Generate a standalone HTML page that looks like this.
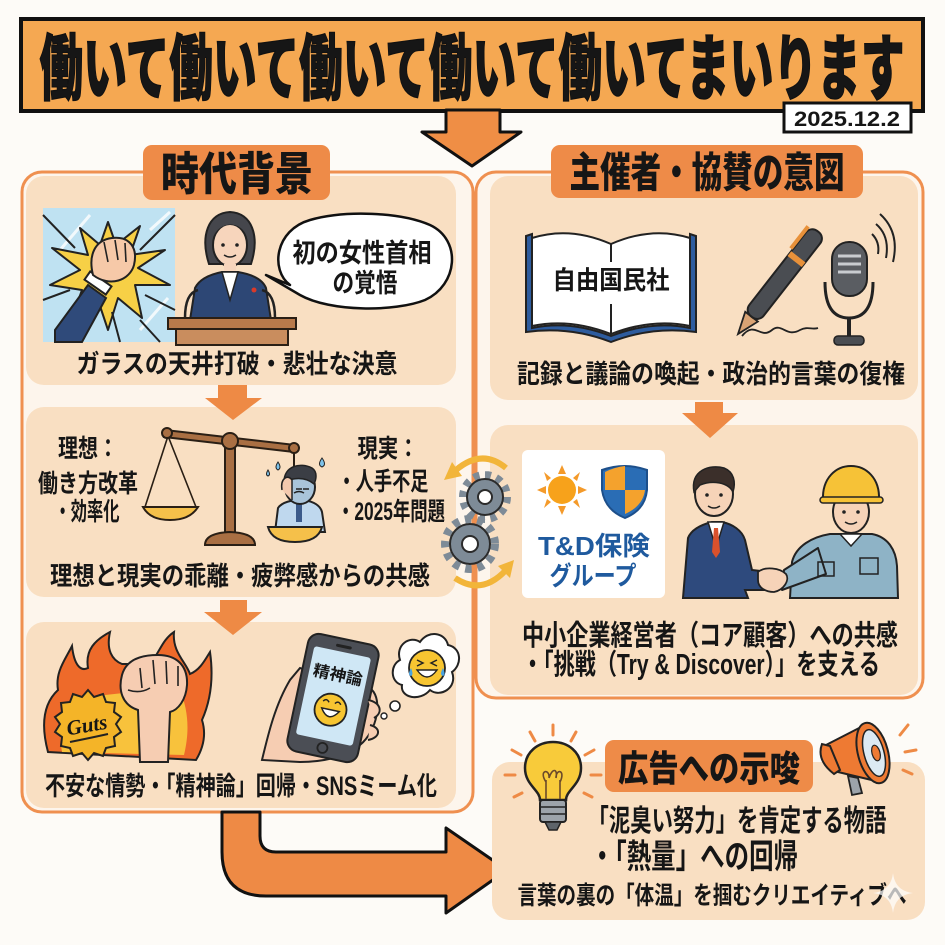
<!DOCTYPE html>
<html lang="ja">
<head>
<meta charset="utf-8">
<style>
html,body{margin:0;padding:0;background:#FDFBF7;}
svg{display:block;}
text{font-family:"Liberation Sans","Noto Sans CJK JP",sans-serif;font-weight:700;fill:#161616;}
</style>
</head>
<body>
<svg width="945" height="945" viewBox="0 0 945 945" xmlns="http://www.w3.org/2000/svg">
<rect x="0" y="0" width="945" height="945" fill="#FDFBF7"/>

<!-- Title -->
<rect x="21" y="19" width="902" height="92" fill="#F5A852" stroke="#111" stroke-width="4"/>
<text transform="translate(472,94) scale(1,1.5)" text-anchor="middle" font-size="48" textLength="865" lengthAdjust="spacingAndGlyphs" style="font-weight:900" stroke="#111" stroke-width="0.8">働いて働いて働いて働いて働いてまいります</text>
<rect x="784" y="103" width="127" height="29" fill="#fff" stroke="#111" stroke-width="3"/>
<text transform="translate(847,126)" text-anchor="middle" font-size="21" textLength="106" lengthAdjust="spacingAndGlyphs">2025.12.2</text>

<!-- main down arrow -->
<path d="M446,110 L500,110 L500,132 L521,132 L472,166 L422,132 L446,132 Z" fill="#EF8E45" stroke="#111" stroke-width="3" stroke-linejoin="round"/>

<!-- Left panel -->
<rect x="22" y="172" width="451" height="640" rx="20" fill="#FDF5EC" stroke="#EF9050" stroke-width="3"/>
<!-- Right panel -->
<rect x="476" y="172" width="447" height="526" rx="20" fill="#FDF5EC" stroke="#EF9050" stroke-width="3"/>

<!-- inner boxes left -->
<rect x="26" y="176" width="430" height="209" rx="18" fill="#F9DFC2"/>
<rect x="26" y="407" width="430" height="190" rx="18" fill="#F9DFC2"/>
<rect x="26" y="622" width="430" height="186" rx="18" fill="#F9DFC2"/>
<!-- inner boxes right -->
<rect x="490" y="176" width="428" height="224" rx="18" fill="#F9DFC2"/>
<rect x="490" y="425" width="428" height="270" rx="18" fill="#F9DFC2"/>

<!-- header pills -->
<rect x="143" y="145" width="187" height="55" rx="9" fill="#EE8B48"/>
<text transform="translate(237,190) scale(1,1.2)" text-anchor="middle" font-size="38" textLength="152" lengthAdjust="spacingAndGlyphs" style="font-weight:900">時代背景</text>
<rect x="551" y="145" width="312" height="53" rx="9" fill="#EE8B48"/>
<text transform="translate(707,187) scale(1,1.3)" text-anchor="middle" font-size="32" textLength="275" lengthAdjust="spacingAndGlyphs" style="font-weight:900">主催者・協賛の意図</text>

<!-- small arrows -->
<path d="M218,385 L247,385 L247,398 L262,398 L233,420 L205,398 L218,398 Z" fill="#EE8A45"/>
<path d="M220,600 L247,600 L247,612 L262,612 L233,635 L204,612 L220,612 Z" fill="#EE8A45"/>
<path d="M695,402 L723,402 L723,413 L738,413 L710,438 L682,413 L695,413 Z" fill="#EE8A45"/>

<!-- ===== Box 1 left illustrations ===== -->
<rect x="43" y="208" width="132" height="134" fill="#BFE2F2"/>
<g stroke="#fff" stroke-width="3" opacity="0.8">
<line x1="60" y1="250" x2="90" y2="215"/><line x1="140" y1="330" x2="168" y2="298"/><line x1="150" y1="230" x2="170" y2="212"/>
</g>
<polygon points="108,222 116,245 140,226 130,255 165,250 138,268 170,285 135,285 142,318 118,298 108,330 98,300 72,318 82,290 50,285 80,270 52,248 88,255 80,228 100,245" fill="#F7D046" stroke="#222" stroke-width="2" stroke-linejoin="round"/>
<g stroke="#222" stroke-width="2" fill="none">
<path d="M43,215 L75,248"/><path d="M175,215 L140,250"/><path d="M43,300 L70,290"/><path d="M175,310 L145,295"/><path d="M120,342 L112,312"/><path d="M160,342 L140,320"/>
</g>
<!-- arm -->
<path d="M55,330 L88,285 L106,298 L82,342 L55,342 Z" fill="#2F4A7A" stroke="#222" stroke-width="2"/>
<rect x="85" y="278" width="26" height="10" fill="#fff" stroke="#222" stroke-width="2" transform="rotate(35 98 283)"/>
<path d="M93,275 C88,255 95,240 112,238 C130,236 138,248 134,265 C130,280 110,288 93,275 Z" fill="#F6C9A8" stroke="#222" stroke-width="2"/>
<g stroke="#222" stroke-width="1.6" fill="none"><path d="M104,242 L108,262"/><path d="M115,240 L118,260"/><path d="M125,243 L126,262"/></g>

<!-- woman -->
<path d="M209,264 C200,236 208,213 230,212 C252,213 260,236 251,264 Z" fill="#45464C" stroke="#222" stroke-width="2"/>
<ellipse cx="230" cy="245" rx="17" ry="21" fill="#F7D5BC" stroke="#222" stroke-width="2"/>
<path d="M213,238 C218,222 240,218 248,238 C245,226 235,220 228,222 C220,224 215,230 213,238 Z" fill="#45464C"/>
<circle cx="223" cy="245" r="1.8" fill="#222"/><circle cx="237" cy="245" r="1.8" fill="#222"/>
<path d="M224,255 Q230,259 236,255" stroke="#222" stroke-width="1.5" fill="none"/>
<rect x="224" y="264" width="12" height="12" fill="#F7D5BC"/>
<path d="M190,320 L195,288 C200,278 212,274 222,272 L238,272 C250,274 262,278 266,288 L271,320 Z" fill="#2D4775" stroke="#222" stroke-width="2"/>
<path d="M222,272 L230,300 L238,272 Z" fill="#fff" stroke="#222" stroke-width="1.5"/>
<circle cx="254" cy="290" r="2.5" fill="#D83A2A"/>
<path d="M185,318 C185,300 190,292 198,290" stroke="#222" stroke-width="2.5" fill="none"/>
<path d="M275,318 C275,300 270,292 262,290" stroke="#222" stroke-width="2.5" fill="none"/>
<rect x="168" y="318" width="128" height="11" fill="#B97A4B" stroke="#2a1f15" stroke-width="2"/>
<rect x="176" y="329" width="112" height="16" fill="#C98D5E" stroke="#2a1f15" stroke-width="2"/>

<!-- speech bubble -->
<path d="M290,285 C270,270 275,230 310,220 C345,210 400,212 430,225 C462,240 458,285 425,300 C395,312 330,312 300,295 L266,275 Z" fill="#fff" stroke="#111" stroke-width="2.5" stroke-linejoin="round"/>
<text transform="translate(362,262) scale(1,1.2)" text-anchor="middle" font-size="22" textLength="139" lengthAdjust="spacingAndGlyphs">初の女性首相</text>
<text transform="translate(365,292) scale(1,1.2)" text-anchor="middle" font-size="22" textLength="65" lengthAdjust="spacingAndGlyphs">の覚悟</text>

<text transform="translate(237,373) scale(1,1.2)" text-anchor="middle" font-size="22" textLength="321" lengthAdjust="spacingAndGlyphs">ガラスの天井打破・悲壮な決意</text>

<!-- ===== Box 2 left ===== -->
<text transform="translate(88,457) scale(1,1.2)" text-anchor="middle" font-size="21" textLength="60" lengthAdjust="spacingAndGlyphs">理想：</text>
<text transform="translate(88,492) scale(1,1.2)" text-anchor="middle" font-size="21" textLength="100" lengthAdjust="spacingAndGlyphs">働き方改革</text>
<text transform="translate(87,520) scale(1,1.2)" text-anchor="middle" font-size="21" textLength="65" lengthAdjust="spacingAndGlyphs">・効率化</text>
<text transform="translate(388,457) scale(1,1.2)" text-anchor="middle" font-size="21" textLength="61" lengthAdjust="spacingAndGlyphs">現実：</text>
<text transform="translate(383,490) scale(1,1.2)" text-anchor="middle" font-size="21" textLength="91" lengthAdjust="spacingAndGlyphs">・人手不足</text>
<text transform="translate(391,520) scale(1,1.2)" text-anchor="middle" font-size="21" textLength="108" lengthAdjust="spacingAndGlyphs">・2025年問題</text>

<!-- scale -->
<g stroke="#2a1f15" stroke-width="2">
<path d="M145,507 L168,436 L196,507" fill="none" stroke-width="1.6"/>
<path d="M143,507 L198,507 Q190,520 170,520 Q150,520 143,507 Z" fill="#F5C04A"/>
<rect x="225" y="438" width="10" height="100" fill="#A96F43"/>
<path d="M165,430 L295,445 L294,452 L164,437 Z" fill="#A96F43"/>
<circle cx="167" cy="433" r="5" fill="#A96F43"/>
<circle cx="294" cy="448" r="5" fill="#A96F43"/>
<circle cx="230" cy="441" r="8" fill="#A96F43"/>
<path d="M205,545 Q205,533 230,532 Q255,533 255,545 Z" fill="#A96F43"/>
<line x1="294" y1="453" x2="294" y2="470"/>
</g>
<!-- stressed man -->
<path d="M275,532 L278,508 C282,502 292,500 300,500 C310,500 320,504 322,512 L325,532 Z" fill="#BFD8EE" stroke="#222" stroke-width="2"/>
<rect x="296" y="504" width="6" height="18" fill="#3B5A8A"/>
<ellipse cx="300" cy="487" rx="15" ry="17" fill="#A9C4DA" stroke="#222" stroke-width="2"/>
<path d="M284,482 C284,466 300,462 312,468 C318,472 316,480 314,484 C305,476 292,478 284,482 Z" fill="#3B3E45" stroke="#222" stroke-width="1.5"/>
<path d="M282,490 C280,478 288,474 292,480 L292,500" fill="#F3C9AE" stroke="#222" stroke-width="1.5"/>
<path d="M294,493 Q299,490 304,493" stroke="#222" stroke-width="1.5" fill="none"/>
<path d="M296,489 L302,489 M303,489 L309,489" stroke="#222" stroke-width="1.4"/>
<path d="M268,527 L322,527 Q318,542 295,542 Q272,542 268,527 Z" fill="#F5C04A" stroke="#222" stroke-width="2"/>
<g fill="#7EC3EA" stroke="#222" stroke-width="1"><path d="M278,462 q-4,6 0,8 q4,-2 0,-8Z"/><path d="M322,458 q-5,7 0,9 q5,-2 0,-9Z"/><path d="M268,470 q-3,5 0,6 q3,-1 0,-6Z"/></g>

<text transform="translate(240,585) scale(1,1.2)" text-anchor="middle" font-size="22" textLength="380" lengthAdjust="spacingAndGlyphs">理想と現実の乖離・疲弊感からの共感</text>

<!-- ===== Box 3 left ===== -->
<path d="M48,752 C40,722 45,702 58,690 C55,672 65,660 72,646 C74,664 80,672 88,668 C85,650 95,640 110,632 C106,650 112,660 122,664 L150,664 C160,652 162,640 174,632 C172,652 186,662 190,674 C200,670 205,660 210,652 C214,680 210,702 202,720 C207,736 202,750 196,760 Z" fill="#EE6A2A" stroke="#222" stroke-width="2"/>
<path d="M62,752 C58,730 64,712 74,700 C78,712 88,708 96,696 L150,690 C160,700 170,700 180,690 C188,710 190,730 184,755 Z" fill="#F8C23C"/>
<!-- fist -->
<path d="M140,762 L138,710 C122,705 118,690 122,675 C126,660 140,655 158,655 C176,655 188,665 187,685 C186,700 178,710 170,712 L168,762 Z" fill="#F6CDB2" stroke="#222" stroke-width="2"/>
<g stroke="#222" stroke-width="1.6" fill="none"><path d="M140,668 L142,688"/><path d="M153,660 L155,684"/><path d="M166,661 L167,684"/><path d="M178,666 L178,686"/><path d="M128,690 Q140,694 150,688"/></g>
<!-- guts badge -->
<polygon points="88,690 94,697 103,694 106,702 115,703 114,712 121,717 116,724 121,732 114,737 115,746 106,748 103,756 94,753 88,760 82,753 73,756 70,748 61,746 62,737 55,732 60,724 55,717 62,712 61,703 70,702 73,694 82,697" fill="#F4B428" stroke="#222" stroke-width="2"/>
<text transform="translate(88,732) rotate(-10)" text-anchor="middle" font-size="21" style="font-family:'Liberation Serif',serif;font-style:italic;font-weight:700">Guts</text>
<path d="M70,742 Q90,738 108,734" stroke="#222" stroke-width="2" fill="none"/>

<!-- hand + phone -->
<path d="M262,760 C268,735 275,705 290,680 L300,668 L372,690 C382,700 378,730 360,745 C345,758 320,762 300,762 Z" fill="#F6CDB2" stroke="#222" stroke-width="2"/>
<g transform="translate(333,698) rotate(12)">
<rect x="-36" y="-60" width="72" height="120" rx="11" fill="#4B4E55" stroke="#222" stroke-width="2"/>
<rect x="-29" y="-47" width="58" height="90" rx="3" fill="#CFE7F5"/>
<rect x="-8" y="-54" width="16" height="3" rx="1.5" fill="#222"/>
<circle cx="0" cy="51" r="5" fill="none" stroke="#222" stroke-width="1.8"/>
<text x="0" y="-18" text-anchor="middle" font-size="16" textLength="50" lengthAdjust="spacingAndGlyphs">精神論</text>
<circle cx="0" cy="12" r="16" fill="#F7C531" stroke="#222" stroke-width="1.8"/>
<path d="M-9,12 Q0,26 9,12 Z" fill="#fff" stroke="#222" stroke-width="1.5"/>
<path d="M-9,5 Q-6,1 -3,5 M3,5 Q6,1 9,5" stroke="#222" stroke-width="1.5" fill="none"/>
</g>
<path d="M368,700 C380,702 384,712 374,718 M370,725 C382,728 380,738 368,740" stroke="#222" stroke-width="2" fill="#F6CDB2"/>
<!-- thought bubble -->
<path d="M400,660 C395,645 410,635 420,642 C428,630 445,632 448,645 C462,648 462,665 452,672 C458,688 440,698 430,690 C420,702 400,698 402,685 C390,682 390,665 400,660 Z" fill="#fff" stroke="#222" stroke-width="2"/>
<circle cx="395" cy="706" r="5" fill="#fff" stroke="#222" stroke-width="1.6"/>
<circle cx="384" cy="716" r="3" fill="#fff" stroke="#222" stroke-width="1.4"/>
<circle cx="427" cy="668" r="18" fill="#F7C531" stroke="#222" stroke-width="1.8"/>
<path d="M417,670 Q427,684 437,670 Z" fill="#fff" stroke="#222" stroke-width="1.4"/>
<path d="M417,660 L423,663 L417,666 M437,660 L431,663 L437,666" stroke="#222" stroke-width="1.5" fill="none"/>
<path d="M411,668 q-4,7 0,8 q3,-1 0,-8Z M443,668 q-4,7 0,8 q3,-1 0,-8Z" fill="#4AA3E0"/>

<text transform="translate(241,795) scale(1,1.2)" text-anchor="middle" font-size="22" textLength="392" lengthAdjust="spacingAndGlyphs">不安な情勢・「精神論」回帰・SNSミーム化</text>

<!-- ===== Right box 1 ===== -->
<path d="M526,332 L526,236 L532,234 L532,328 Q570,320 611,336 Q652,320 690,328 L690,234 L696,236 L696,332 Q652,326 611,342 Q570,326 526,332 Z" fill="#2E5C9E" stroke="#222" stroke-width="2"/>
<path d="M532,326 L532,238 Q570,226 611,244 L611,334 Q570,318 532,326 Z" fill="#fff" stroke="#222" stroke-width="2"/>
<path d="M690,326 L690,238 Q652,226 611,244 L611,334 Q652,318 690,326 Z" fill="#fff" stroke="#222" stroke-width="2"/>
<rect x="548" y="262" width="128" height="42" fill="#fff"/>
<text transform="translate(611,289) scale(1,1.15)" text-anchor="middle" font-size="22" textLength="117" lengthAdjust="spacingAndGlyphs">自由国民社</text>
<!-- pen -->
<g transform="translate(738,334) rotate(-52)">
<path d="M0,0 L22,-8 L22,8 Z" fill="#D9A374" stroke="#222" stroke-width="1.8"/>
<rect x="22" y="-9" width="108" height="18" rx="8" fill="#4A4D52" stroke="#222" stroke-width="2"/>
<rect x="92" y="-9" width="6" height="18" fill="#E8913A"/>
<path d="M100,-11 L128,-11" stroke="#E8913A" stroke-width="4"/>
</g>
<path d="M742,336 C755,320 760,340 772,330 C782,322 786,338 800,330 C808,326 812,330 818,328" stroke="#222" stroke-width="1.8" fill="none"/>
<!-- mic -->
<rect x="832" y="242" width="35" height="54" rx="17" fill="#5A5D62" stroke="#222" stroke-width="2"/>
<g stroke="#C9CCD0" stroke-width="3"><line x1="838" y1="256" x2="861" y2="256"/><line x1="838" y1="264" x2="861" y2="264"/><line x1="838" y1="272" x2="861" y2="272"/></g>
<path d="M825,282 Q825,318 849,318 Q873,318 873,282" stroke="#222" stroke-width="3" fill="none"/>
<line x1="849" y1="318" x2="849" y2="338" stroke="#222" stroke-width="4"/>
<rect x="834" y="336" width="30" height="9" rx="4" fill="#4A4D52" stroke="#222" stroke-width="1.5"/>
<g stroke="#222" stroke-width="2" fill="none"><path d="M872,234 Q880,242 878,254"/><path d="M876,224 Q890,236 886,258"/><path d="M880,214 Q900,232 893,262"/></g>
<text transform="translate(711,383) scale(1,1.2)" text-anchor="middle" font-size="22" textLength="388" lengthAdjust="spacingAndGlyphs">記録と議論の喚起・政治的言葉の復権</text>

<!-- ===== Right box 2 ===== -->
<rect x="522" y="450" width="143" height="148" rx="6" fill="#fff"/>
<g fill="#F49A2A">
<polygon points="562,465 558,474 566,474"/><polygon points="562,515 558,506 566,506"/><polygon points="537,490 546,486 546,494"/><polygon points="587,490 578,486 578,494"/>
<polygon points="544,472 551,478 547,481"/><polygon points="580,472 573,478 577,481"/><polygon points="544,508 551,502 547,499"/><polygon points="580,508 573,502 577,499"/>
</g>
<circle cx="562" cy="490" r="14" fill="#F7A21B"/>
<path d="M602,470 Q625,462 647,470 L647,490 Q645,510 625,518 Q605,510 602,490 Z" fill="#2A6DB5" stroke="#1d4f8a" stroke-width="2"/>
<path d="M625,466 L625,490 L645,490 Q643,506 625,514 L625,490 L605,490 L605,472 Q615,467 625,466 Z" fill="#F4A22D"/>
<text transform="translate(594,555)" text-anchor="middle" font-size="26" textLength="112" lengthAdjust="spacingAndGlyphs" style="fill:#1F5A9E">T&amp;D保険</text>
<text transform="translate(593,585)" text-anchor="middle" font-size="26" textLength="87" lengthAdjust="spacingAndGlyphs" style="fill:#1F5A9E">グループ</text>

<!-- businessman -->
<path d="M683,598 L688,538 C692,528 704,524 712,522 L722,522 C732,524 742,530 745,540 L752,570 L770,572 L770,590 L745,590 L748,598 Z" fill="#2E4A7D" stroke="#222" stroke-width="2"/>
<path d="M708,522 L716,548 L724,522 Z" fill="#fff" stroke="#222" stroke-width="1.5"/>
<path d="M714,528 L718,528 L720,552 L716,558 L712,552 Z" fill="#D9512C"/>
<ellipse cx="714" cy="494" rx="19" ry="22" fill="#F6D3B8" stroke="#222" stroke-width="2"/>
<path d="M694,492 C690,470 710,464 724,468 C734,472 736,482 733,492 C728,482 712,480 700,485 Z" fill="#3B2F2A" stroke="#222" stroke-width="1.5"/>
<circle cx="707" cy="495" r="1.8" fill="#222"/><circle cx="721" cy="495" r="1.8" fill="#222"/>
<path d="M708,506 Q714,510 720,506" stroke="#222" stroke-width="1.5" fill="none"/>
<!-- worker -->
<path d="M790,598 L792,562 C796,546 812,537 830,534 L872,534 C888,537 896,550 897,566 L898,598 Z" fill="#8EB3C6" stroke="#222" stroke-width="2"/>
<path d="M840,534 L851,546 L862,534 Z" fill="#fff" stroke="#222" stroke-width="1.5"/>
<path d="M818,548 L784,570 L782,590 L826,574 Z" fill="#8EB3C6" stroke="#222" stroke-width="2" stroke-linejoin="round"/>
<rect x="860" y="558" width="18" height="16" fill="none" stroke="#222" stroke-width="1.5"/>
<rect x="818" y="562" width="16" height="14" fill="none" stroke="#222" stroke-width="1.5"/>
<ellipse cx="851" cy="512" rx="18" ry="21" fill="#F6D3B8" stroke="#222" stroke-width="2"/>
<circle cx="844" cy="512" r="1.8" fill="#222"/><circle cx="858" cy="512" r="1.8" fill="#222"/>
<path d="M845,522 Q851,526 857,522" stroke="#222" stroke-width="1.5" fill="none"/>
<path d="M823,500 C822,478 836,466 851,466 C866,466 880,478 879,500 Z" fill="#F6C237" stroke="#222" stroke-width="2"/>
<rect x="820" y="497" width="63" height="6" rx="3" fill="#F6C237" stroke="#222" stroke-width="1.5"/>
<!-- hands -->
<path d="M758,572 C765,566 780,568 786,574 C790,580 784,590 774,592 C766,592 758,588 758,580 Z" fill="#F6D3B8" stroke="#222" stroke-width="1.8"/>

<text transform="translate(710,645) scale(1,1.3)" text-anchor="middle" font-size="22" textLength="376" lengthAdjust="spacingAndGlyphs">中小企業経営者（コア顧客）への共感</text>
<text transform="translate(701,674) scale(1,1.3)" text-anchor="middle" font-size="22" textLength="358" lengthAdjust="spacingAndGlyphs">・「挑戦（Try &amp; Discover）」を支える</text>

<!-- gears and cycling arrows -->
<g>
<circle cx="485" cy="497" r="22" fill="none" stroke="#7E8B97" stroke-width="8" stroke-dasharray="6 5.5"/>
<circle cx="485" cy="497" r="18" fill="#7E8B97" stroke="#2b2b2b" stroke-width="2"/>
<circle cx="485" cy="497" r="7" fill="#fff" stroke="#2b2b2b" stroke-width="2"/>
<circle cx="470" cy="544" r="25" fill="none" stroke="#7E8B97" stroke-width="8" stroke-dasharray="6.5 6"/>
<circle cx="470" cy="544" r="20" fill="#7E8B97" stroke="#2b2b2b" stroke-width="2"/>
<circle cx="470" cy="544" r="8" fill="#fff" stroke="#2b2b2b" stroke-width="2"/>
<path d="M506,468 Q482,448 456,470" stroke="#F2B53A" stroke-width="6" fill="none"/>
<polygon points="444,480 462,476 452,462" fill="#F2B53A"/>
<path d="M455,578 Q482,596 506,570" stroke="#F2B53A" stroke-width="6" fill="none"/>
<polygon points="514,560 498,566 510,578" fill="#F2B53A"/>
</g>

<!-- big curved arrow -->
<path d="M222,812 L222,852 Q222,896 266,896 L446,896 L446,913 L507,870 L446,828 L446,852 L276,852 Q260,852 260,836 L260,812 Z" fill="#EE8A45" stroke="#111" stroke-width="3" stroke-linejoin="round"/>

<!-- Bottom right box -->
<rect x="492" y="762" width="433" height="158" rx="18" fill="#F9DFC2"/>
<rect x="605" y="740" width="208" height="52" rx="9" fill="#EE8B48"/>
<text transform="translate(709,781) scale(1,1.2)" text-anchor="middle" font-size="30" textLength="182" lengthAdjust="spacingAndGlyphs" style="font-weight:900">広告への示唆</text>
<!-- bulb -->
<g stroke="#EE8A45" stroke-width="3" stroke-linecap="round">
<line x1="553" y1="725" x2="553" y2="735"/><line x1="530" y1="732" x2="535" y2="741"/><line x1="576" y1="732" x2="571" y2="741"/>
<line x1="512" y1="750" x2="521" y2="755"/><line x1="594" y1="750" x2="585" y2="755"/><line x1="505" y1="775" x2="515" y2="775"/><line x1="591" y1="775" x2="601" y2="775"/>
<line x1="514" y1="797" x2="522" y2="793"/><line x1="592" y1="797" x2="584" y2="793"/>
</g>
<path d="M540,800 C540,790 525,785 525,768 C525,752 538,742 553,742 C568,742 581,752 581,768 C581,785 566,790 566,800 Z" fill="#F8CB3A" stroke="#222" stroke-width="2.5"/>
<path d="M546,800 L546,780 M560,800 L560,780 M546,782 C538,770 550,768 549,778 C552,768 558,768 556,778 C556,768 566,770 560,782" stroke="#6b4a2a" stroke-width="1.6" fill="none"/>
<rect x="540" y="800" width="26" height="22" rx="3" fill="#9CA3AA" stroke="#222" stroke-width="2"/>
<line x1="540" y1="807" x2="566" y2="807" stroke="#222" stroke-width="1.5"/><line x1="540" y1="814" x2="566" y2="814" stroke="#222" stroke-width="1.5"/>
<path d="M545,822 L561,822 L557,830 L549,830 Z" fill="#5E646A" stroke="#222" stroke-width="1.5"/>
<!-- megaphone -->
<g stroke="#EE8A45" stroke-width="3" stroke-linecap="round"><line x1="900" y1="735" x2="908" y2="725"/><line x1="905" y1="752" x2="916" y2="750"/><line x1="903" y1="770" x2="912" y2="774"/></g>
<path d="M826,745 L865,725 L880,782 L838,772 Z" fill="#EE7A33" stroke="#222" stroke-width="2" stroke-linejoin="round"/>
<path d="M822,744 Q816,760 834,774 L840,770 L830,746 Z" fill="#EE7A33" stroke="#222" stroke-width="2"/>
<ellipse cx="873" cy="753" rx="15" ry="31" transform="rotate(-15 873 753)" fill="#EE7A33" stroke="#222" stroke-width="2"/>
<ellipse cx="874" cy="753" rx="10" ry="24" transform="rotate(-15 874 753)" fill="#DCEAF3" stroke="#222" stroke-width="1.5"/>
<ellipse cx="876" cy="753" rx="4" ry="8" transform="rotate(-15 876 753)" fill="#EE7A33" stroke="#222" stroke-width="1.2"/>
<path d="M848,776 L852,795 L862,793 L858,778 Z" fill="#9CA3AA" stroke="#222" stroke-width="1.8"/>

<text transform="translate(737,831) scale(1,1.25)" text-anchor="middle" font-size="24" textLength="299" lengthAdjust="spacingAndGlyphs">「泥臭い努力」を肯定する物語</text>
<text transform="translate(694,868) scale(1,1.2)" text-anchor="middle" font-size="28" textLength="208" lengthAdjust="spacingAndGlyphs">・「熱量」への回帰</text>
<text transform="translate(712,904) scale(1,1.25)" text-anchor="middle" font-size="20" textLength="389" lengthAdjust="spacingAndGlyphs">言葉の裏の「体温」を掴むクリエイティブへ</text>

<!-- faint sparkle -->
<path d="M893,873 Q895,891 913,893 Q895,895 893,913 Q891,895 873,893 Q891,891 893,873 Z" fill="#fff" opacity="0.7"/>
</svg>
</body>
</html>
